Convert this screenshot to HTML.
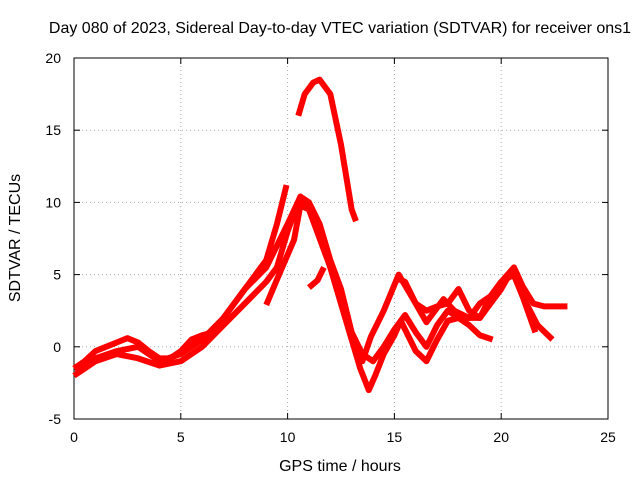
<!DOCTYPE html>
<html><head><meta charset="utf-8"><style>
body{margin:0;background:#fff}
text{font-family:"Liberation Sans",sans-serif;font-size:14px;fill:#000}
</style></head><body>
<svg id="c" width="640" height="480">
<text x="340" y="33" text-anchor="middle" style="font-size:16px">Day 080 of 2023, Sidereal Day-to-day VTEC variation (SDTVAR) for receiver ons1</text>
<text x="340" y="471" text-anchor="middle" style="font-size:16px">GPS time / hours</text>
<text x="0" y="0" text-anchor="middle" transform="translate(20,238) rotate(-90)" style="font-size:16px">SDTVAR / TECUs</text>
</svg>
<script>
const xTicks=[0,5,10,15,20,25];
const yTicks=[-5,0,5,10,15,20];
const seriesA=[[0,-1.5],[0.5,-1],[1,-0.3],[1.5,0],[2,0.3],[2.5,0.6],[3,0.3],[3.5,-0.3],[4,-0.8],[4.5,-0.8],[5,-0.3],[5.5,0.5],[6,0.8],[6.5,1],[7,2],[7.5,3],[8,4],[8.5,5],[9,6],[9.5,8.5],[9.95,11.2]];
const seriesB=[[0,-2],[0.5,-1.5],[1,-1],[2,-0.5],[3,-0.8],[4,-1.3],[5,-1],[6,0],[7,1.5],[8,3],[9,4.5],[9.5,5.5],[10,8],[10.6,10.4],[11,9.5],[11.5,7.5],[12,5.5],[12.5,3],[13,0.5],[13.4,-1.5],[13.8,-3],[14.1,-2],[14.5,-0.5],[15,0.8],[15.3,1.8],[16,-0.3],[16.5,-1],[17,0.5],[17.5,1.8],[18,2],[18.5,1.5],[19,0.8],[19.6,0.5]];
const seriesC=[[0,-1.5],[1,-0.8],[2,-0.3],[3,0],[4,-1],[5,-0.5],[6,0.5],[7,2],[8,4],[9,5.5],[10,8.5],[10.6,10.4],[11,10],[11.5,8.5],[12,6],[12.5,4],[13,1],[13.5,-0.5],[14,-1],[14.5,0],[15,1.2],[15.5,2.2],[16,1],[16.5,0],[17,1.5],[17.5,2.5],[18,2],[19,2],[19.5,3.5],[20,4.5],[20.6,5],[21,3.5],[21.6,1.0]];
const seriesD=[[9.0,2.9],[9.6,5],[10.3,7.4],[10.6,9.8],[11,9.5],[11.5,8],[12,5.5],[12.5,3],[13,0.5],[13.5,-1],[13.9,0.7],[14.5,2.5],[15.2,5.0],[15.8,3.5],[16.5,1.7],[17.3,3.3],[17.8,2.5],[18.5,2],[19,3],[19.5,3.5],[20,4.5],[20.6,5.5],[21,4.2],[21.5,3],[22,2.8],[23.1,2.8]];
const seriesE=[[11.0,4.1],[11.4,4.6],[11.7,5.5]];
const seriesF=[[15,4.8],[15.5,4.5],[16,3],[16.5,2.5],[17,2.8],[17.5,3],[18,4],[18.5,2.5],[19,2],[19.5,3],[20,4],[20.5,5.3],[21,3.5],[21.7,1.5],[22.4,0.5]];
const seriesArc=[[10.5,16],[10.8,17.5],[11.2,18.3],[11.5,18.5],[12,17.5],[12.5,14],[13,9.5],[13.2,8.7]];
const allSeries=[seriesA,seriesB,seriesC,seriesD,seriesE,seriesF,seriesArc];
const L=74,R=608,T=58,B=419;
const xs=v=>L+(v-0)/25*(R-L);
const ys=v=>B-(v+5)/25*(B-T);
const svg=document.getElementById('c');
const NS='http://www.w3.org/2000/svg';
function mk(t,a){const e=document.createElementNS(NS,t);for(const k in a)e.setAttribute(k,a[k]);svg.appendChild(e);return e;}
xTicks.forEach(v=>{
 const g=mk('line',{x1:xs(v),x2:xs(v),y1:T,y2:B,stroke:'#aaa','stroke-dasharray':'1,3'});
 
 
 const t=mk('text',{x:xs(v),y:B+23,'text-anchor':'middle'});t.textContent=v;
 
 
 mk('line',{x1:xs(v),x2:xs(v),y1:B,y2:B-6,stroke:'#000'});
 mk('line',{x1:xs(v),x2:xs(v),y1:T,y2:T+6,stroke:'#000'});
});
yTicks.forEach(v=>{
 const g=mk('line',{x1:L,x2:R,y1:ys(v),y2:ys(v),stroke:'#aaa','stroke-dasharray':'1,3'});
 
 
 const t=mk('text',{x:L-13,y:ys(v)+5,'text-anchor':'end'});t.textContent=v;
 
 
 mk('line',{x1:L,x2:L+6,y1:ys(v),y2:ys(v),stroke:'#000'});
 mk('line',{x1:R,x2:R-6,y1:ys(v),y2:ys(v),stroke:'#000'});
});
const fr=mk('rect',{x:L,y:T,width:R-L,height:B-T,fill:'none',stroke:'#000'});


allSeries.forEach((s,i)=>{
 const p=mk('polyline',{points:s.map(d=>xs(d[0])+','+ys(d[1])).join(' '),fill:'none',stroke:'#f00','stroke-width':6,'stroke-linejoin':'round','stroke-linecap':'butt'});
 
 
});
</script>
</body></html>
